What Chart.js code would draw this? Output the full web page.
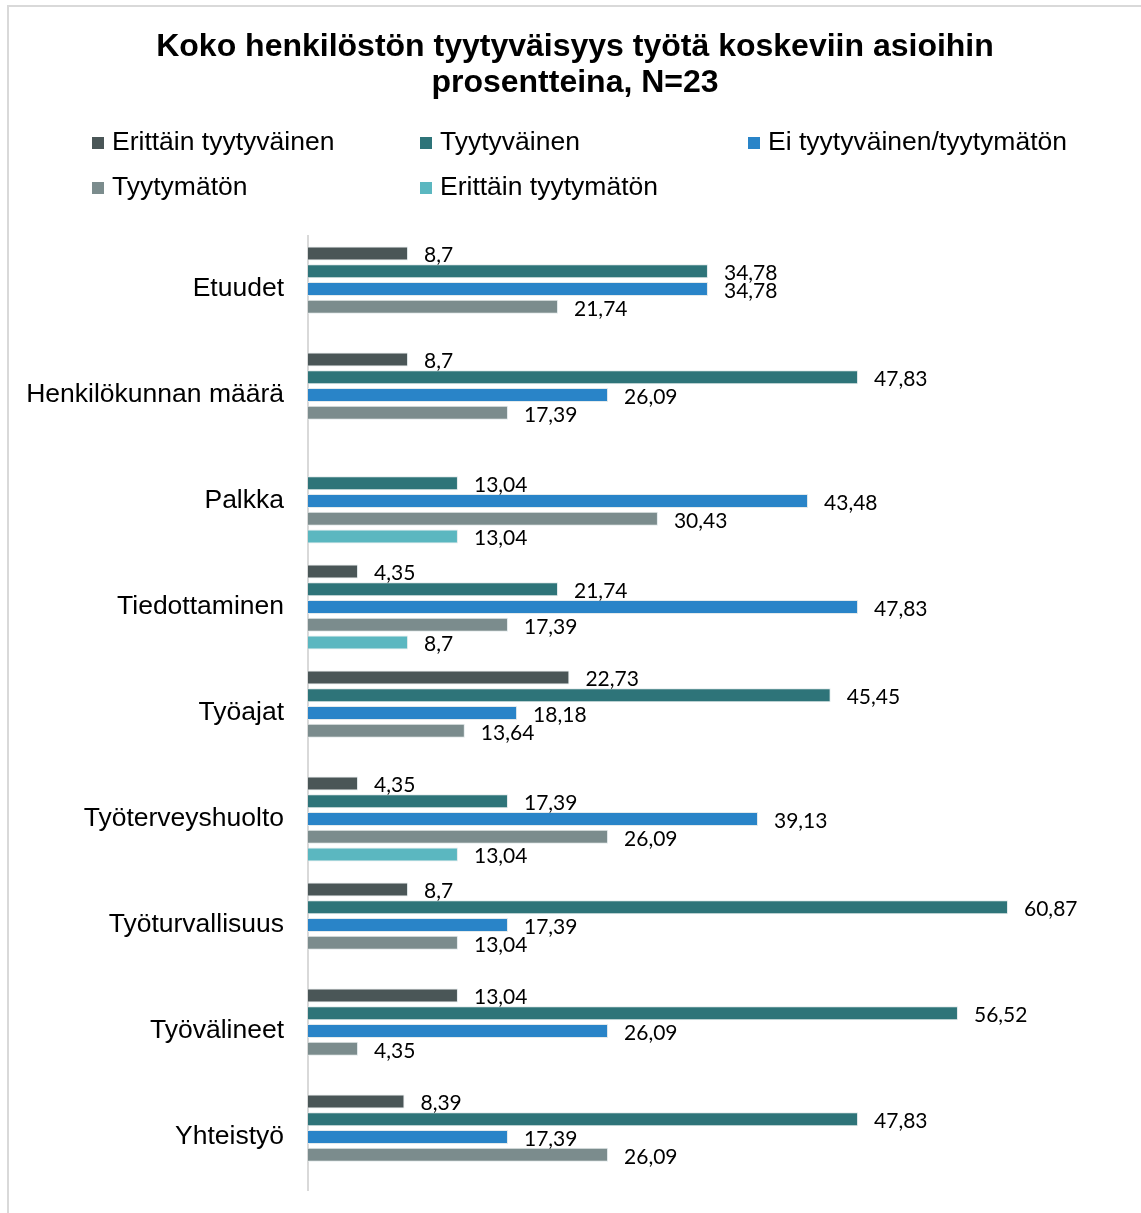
<!DOCTYPE html>
<html>
<head>
<meta charset="utf-8">
<script src="https://cdn.jsdelivr.net/npm/chart.js@4"></script>
<style>
    body { margin: 0; overflow: hidden; background: #fff; }
    #frame { position: absolute; left: 7px; top: 5px; width: 1300px; height: 1300px;
             border-left: 2px solid #d9d9d9; border-top: 2px solid #d9d9d9; }
    #chart { position: absolute; left: 0; top: 0; }
</style>
</head>
<body>
<div id="frame"></div>
<canvas id="chart" width="1141" height="1213"></canvas>
<script>
var categories = ["Etuudet", "Henkilökunnan määrä", "Palkka", "Tiedottaminen", "Työajat",
    "Työterveyshuolto", "Työturvallisuus", "Työvälineet", "Yhteistyö"];

var seriesNames = ["Erittäin tyytyväinen", "Tyytyväinen", "Ei tyytyväinen/tyytymätön",
    "Tyytymätön", "Erittäin tyytymätön"];

var erittainTyytyvainen = [8.7, 8.7, null, 4.35, 22.73, 4.35, 8.7, 13.04, 8.39];
var tyytyvainen = [34.78, 47.83, 13.04, 21.74, 45.45, 17.39, 60.87, 56.52, 47.83];
var eiTyytyvainen = [34.78, 26.09, 43.48, 47.83, 18.18, 39.13, 17.39, 26.09, 17.39];
var tyytymaton = [21.74, 17.39, 30.43, 17.39, 13.64, 26.09, 13.04, 4.35, 26.09];
var erittainTyytymaton = [null, null, 13.04, 8.7, null, 13.04, null, null, null];

var titleLines = ["Koko henkilöstön tyytyväisyys työtä koskeviin asioihin", "prosentteina, N=23"];

var colors = ['#4a5657', '#2e7479', '#2984c8', '#7b8c8d', '#5bb7c0'];

var seriesValues = [erittainTyytyvainen, tyytyvainen, eiTyytyvainen, tyytymaton, erittainTyytymaton];

var datasets = seriesNames.map(function (name, i) {
    return {
        label: name,
        data: seriesValues[i],
        backgroundColor: colors[i],
        borderColor: '#e3eaec',
        borderWidth: 1,
        categoryPercentage: 0.837,
        barPercentage: 0.79
    };
});

// title + legend in fixed columns, like the office chart
var headerPlugin = {
    id: 'header',
    afterDraw: function (chart) {
        var ctx = chart.ctx;
        ctx.save();
        ctx.fillStyle = '#000';
        ctx.textAlign = 'center';
        ctx.textBaseline = 'middle';
        ctx.font = 'bold 32px "Liberation Sans", Arial, sans-serif';
        ctx.fillText(titleLines[0], 575, 47);
        ctx.fillText(titleLines[1], 575, 83);

        ctx.font = '26.5px "Liberation Sans", Arial, sans-serif';
        ctx.textAlign = 'left';
        chart.data.datasets.forEach(function (ds, i) {
            var col = i % 3, row = Math.floor(i / 3);
            var x = 92 + col * 328, y = 143 + row * 45;
            ctx.fillStyle = ds.backgroundColor;
            ctx.fillRect(x, y - 6, 12, 12);
            ctx.fillStyle = '#000';
            ctx.fillText(ds.label, x + 20, y);
        });
        ctx.restore();
    }
};

var valueLabels = {
    id: 'valueLabels',
    afterDatasetsDraw: function (chart) {
        var ctx = chart.ctx;
        ctx.save();
        ctx.font = '21px Lato, "Open Sans", sans-serif';
        ctx.fillStyle = '#000';
        ctx.textAlign = 'left';
        ctx.textBaseline = 'middle';
        chart.data.datasets.forEach(function (ds, i) {
            chart.getDatasetMeta(i).data.forEach(function (bar, j) {
                var v = ds.data[j];
                if (v === null || v === undefined) return;
                ctx.fillText(String(v).replace('.', ','), bar.x + 16, bar.y + 2);
            });
        });
        ctx.restore();
    }
};

window.onload = function () {
    var ctx = document.getElementById("chart").getContext("2d");

    new Chart(ctx, {
        type: "bar",
        data: { labels: categories, datasets: datasets },
        plugins: [headerPlugin, valueLabels],
        options: {
            indexAxis: 'y',
            responsive: false,
            animation: false,
            layout: { padding: { left: 0, right: 28, top: 236, bottom: 23 } },
            plugins: {
                legend: { display: false },
                title: { display: false },
                tooltip: { enabled: false }
            },
            scales: {
                x: {
                    display: false,
                    min: 0,
                    max: 70
                },
                y: {
                    grid: { display: false, drawTicks: false },
                    border: { display: true, color: '#d9d9d9', width: 2 },
                    ticks: {
                        color: '#000',
                        padding: 24,
                        font: { family: '"Liberation Sans", Arial, sans-serif', size: 26.5 }
                    },
                    afterFit: function (scale) {
                        scale.width = 308;
                        // tick padding would otherwise eat space below the last category
                        scale.paddingTop = 0;
                        scale.paddingBottom = 0;
                    }
                }
            }
        }
    });
};
</script>
</body>
</html>
